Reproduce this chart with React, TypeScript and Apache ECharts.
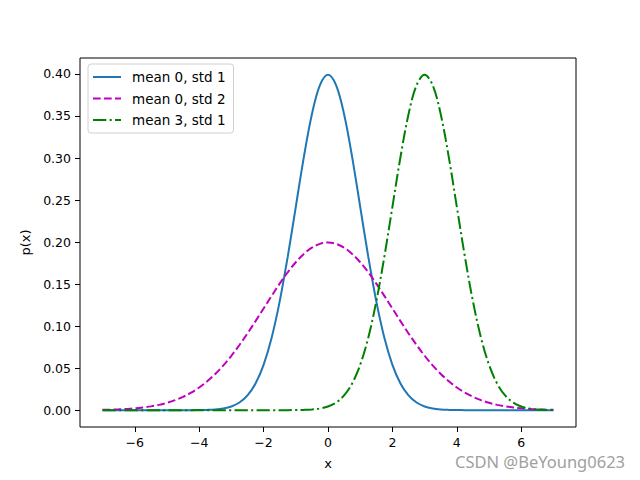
import React, { useEffect, useRef } from "react";
import * as echarts from "echarts";

const xValues = [
  -7, -6.75, -6.5, -6.25, -6, -5.75, -5.5, -5.25, -5, -4.75, -4.5, -4.25, -4, -3.75, -3.5, -3.25,
  -3, -2.75, -2.5, -2.25, -2, -1.75, -1.5, -1.25, -1, -0.75, -0.5, -0.25, 0, 0.25, 0.5, 0.75,
  1, 1.25, 1.5, 1.75, 2, 2.25, 2.5, 2.75, 3, 3.25, 3.5, 3.75, 4, 4.25, 4.5, 4.75,
  5, 5.25, 5.5, 5.75, 6, 6.25, 6.5, 6.75, 7,
];

const mean0std1 = [
  0, 0, 0, 0, 0, 0, 0, 0, 0, 0, 0.00002, 0.00005, 0.00013, 0.00035, 0.00087, 0.00203,
  0.00443, 0.00909, 0.01753, 0.03174, 0.05399, 0.08628, 0.12952, 0.18265, 0.24197, 0.30114, 0.35207, 0.38667,
  0.39894, 0.38667, 0.35207, 0.30114, 0.24197, 0.18265, 0.12952, 0.08628, 0.05399, 0.03174, 0.01753, 0.00909,
  0.00443, 0.00203, 0.00087, 0.00035, 0.00013, 0.00005, 0.00002, 0, 0, 0, 0, 0, 0, 0, 0, 0, 0,
];

const mean0std2 = [
  0.00044, 0.00067, 0.00101, 0.00151, 0.00222, 0.0032, 0.00454, 0.00634, 0.00876, 0.01192, 0.01587, 0.02086,
  0.027, 0.03442, 0.04314, 0.05324, 0.06476, 0.07756, 0.09132, 0.106, 0.12099, 0.13602, 0.15057, 0.16408,
  0.17603, 0.18593, 0.19333, 0.19792, 0.19947, 0.19792, 0.19333, 0.18593, 0.17603, 0.16408, 0.15057, 0.13602,
  0.12099, 0.106, 0.09132, 0.07756, 0.06476, 0.05324, 0.04314, 0.03442, 0.027, 0.02086, 0.01587, 0.01192,
  0.00876, 0.00634, 0.00454, 0.0032, 0.00222, 0.00151, 0.00101, 0.00067, 0.00044,
];

const mean3std1 = [
  0, 0, 0, 0, 0, 0, 0, 0, 0, 0, 0, 0, 0, 0, 0, 0,
  0, 0, 0, 0, 0, 0, 0.00002, 0.00005, 0.00013, 0.00035, 0.00087, 0.00203,
  0.00443, 0.00909, 0.01753, 0.03174, 0.05399, 0.08628, 0.12952, 0.18265, 0.24197, 0.30114, 0.35207, 0.38667,
  0.39894, 0.38667, 0.35207, 0.30114, 0.24197, 0.18265, 0.12952, 0.08628, 0.05399, 0.03174, 0.01753, 0.00909,
  0.00443, 0.00203, 0.00087, 0.00035, 0.00013,
];

const seriesNames = ["mean 0, std 1", "mean 0, std 2", "mean 3, std 1"];
const xTicks = [-6, -4, -2, 0, 2, 4, 6];
const yTicks = [0, 0.05, 0.1, 0.15, 0.2, 0.25, 0.3, 0.35, 0.4];

const FONT = "DejaVu Sans";

export default function App() {
  const ref = useRef<HTMLDivElement>(null);
  useEffect(() => {
    if (!ref.current) return;
    const chart = echarts.init(ref.current, undefined, { renderer: "svg" });
    const pair = (ys: number[]) => xValues.map((x, i) => [x, ys[i]]);
    const common = {
      type: "line" as const,
      showSymbol: false,
      symbol: "none",
      smooth: 0.35,
      animation: false,
    };
    chart.setOption({
      animation: false,
      backgroundColor: "#fff",
      textStyle: { fontFamily: FONT },
      grid: {
        left: 80,
        right: 64,
        top: 58,
        bottom: 53,
        show: true,
        borderColor: "#000",
        borderWidth: 1,
        containLabel: false,
      },
      legend: {
        orient: "vertical",
        left: 88,
        top: 64,
        padding: [6, 8, 6, 4],
        itemGap: 7.5,
        itemWidth: 28,
        itemHeight: 14,
        borderColor: "#d0d0d0",
        borderWidth: 1,
        borderRadius: 3,
        backgroundColor: "#fff",
        itemStyle: { opacity: 0 },
        textStyle: { fontFamily: FONT, fontSize: 13.5, color: "#000", padding: [0, 0, 0, 6] },
        data: seriesNames,
      },
      xAxis: {
        type: "value",
        min: -7.7,
        max: 7.7,
        name: "x",
        nameLocation: "middle",
        nameGap: 30,
        nameTextStyle: { fontFamily: FONT, fontSize: 13, color: "#000" },
        axisLine: { show: false, onZero: false },
        axisTick: { show: true, length: 5, lineStyle: { color: "#000" }, customValues: xTicks },
        axisLabel: {
          customValues: xTicks,
          margin: 9,
          fontFamily: FONT,
          fontSize: 12.5,
          color: "#000",
          formatter: (v: number) => (v < 0 ? "\u2212" + Math.abs(v) : String(v)),
        },
        splitLine: { show: false },
      },
      yAxis: {
        type: "value",
        min: -0.02,
        max: 0.419,
        name: "p(x)",
        nameLocation: "middle",
        nameGap: 47,
        nameRotate: 90,
        nameTextStyle: { fontFamily: FONT, fontSize: 13, color: "#000" },
        axisLine: { show: false, onZero: false },
        axisTick: { show: true, length: 5, lineStyle: { color: "#000" }, customValues: yTicks },
        axisLabel: {
          customValues: yTicks,
          margin: 9,
          fontFamily: FONT,
          fontSize: 12.5,
          color: "#000",
          formatter: (v: number) => v.toFixed(2),
        },
        splitLine: { show: false },
      },
      graphic: [
        {
          type: "text",
          left: 455,
          top: 453,
          style: {
            text: "CSDN @BeYoung0623",
            fontFamily: "Noto Sans",
            fontSize: 16.5,
            fill: "#a0a0a0",
          },
        },
      ],
      series: [
        {
          ...common,
          name: seriesNames[0],
          data: pair(mean0std1),
          color: "#1f77b4",
          lineStyle: { color: "#1f77b4", width: 2 },
        },
        {
          ...common,
          name: seriesNames[1],
          data: pair(mean0std2),
          color: "#bf00bf",
          lineStyle: { color: "#bf00bf", width: 2, type: [7.7, 3.3] },
        },
        {
          ...common,
          name: seriesNames[2],
          data: pair(mean3std1),
          color: "#008000",
          lineStyle: { color: "#008000", width: 2, type: [13.3, 3.3, 2.1, 3.3] },
        },
      ],
    });
    return () => chart.dispose();
  }, []);
  return <div ref={ref} style={{ width: 640, height: 480, position: "absolute", left: 0, top: 0 }} />;
}
